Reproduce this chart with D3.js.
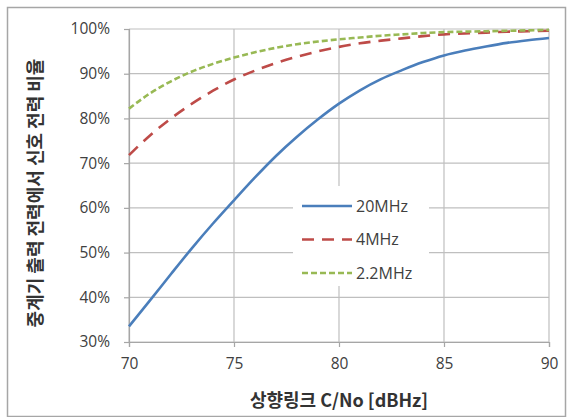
<!DOCTYPE html>
<html>
<head>
<meta charset="utf-8">
<script src="https://cdn.jsdelivr.net/npm/d3@7"></script>
<style>
  body { margin: 0; background: #fff; }
  svg { display: block; }
  .tick text { font-family: "Open Sans", "Noto Sans", sans-serif; font-size: 15.5px; fill: #404040; }
</style>
</head>
<body>
<svg id="chart"></svg>
<script>
// x values (uplink C/No, dBHz)
const cno = [70, 71, 72, 73, 74, 75, 76, 77, 78, 79, 80, 81, 82, 83, 84, 85, 86, 87, 88, 89, 90];
// signal power ratio in repeater output (%)
const bw20 = [33.5, 39.3, 45.2, 51, 56.5, 61.7, 66.8, 71.6, 75.9, 79.8, 83.3, 86.3, 88.8, 90.8, 92.6, 94.1, 95.2, 96.1, 96.9, 97.5, 98];
const bw4 = [71.8, 76.2, 80, 83.3, 86.2, 88.7, 90.7, 92.4, 93.8, 95, 96, 96.8, 97.4, 97.9, 98.4, 98.8, 99, 99.2, 99.4, 99.5, 99.6];
const bw22 = [82.2, 85.6, 88.3, 90.5, 92.2, 93.6, 94.8, 95.8, 96.6, 97.2, 97.7, 98.1, 98.5, 98.8, 99.1, 99.3, 99.4, 99.5, 99.6, 99.7, 99.8];
const seriesNames = ['20MHz', '4MHz', '2.2MHz'];
const xTicks = [70, 75, 80, 85, 90];
const yTicks = [30, 40, 50, 60, 70, 80, 90, 100];

const W = 568, H = 417;
const margin = {top: 29, right: 19, bottom: 75, left: 129};
const width = 549 - margin.left;
const height = 342 - margin.top;

const svg = d3.select('#chart').attr('width', W).attr('height', H);

// outer chart frame
svg.append('rect')
    .attr('x', 7.5).attr('y', 7.5)
    .attr('width', W - 10).attr('height', H - 8)
    .attr('fill', '#fff').attr('stroke', '#a6a6a6').attr('stroke-width', 1.5);

const xScale = d3.scaleLinear().domain([70, 90]).range([0, width]);
const yScale = d3.scaleLinear().domain([30, 100]).range([height, 0]);

const g = svg.append('g').attr('transform', `translate(${margin.left}, ${margin.top})`);

// gridlines
g.append('g').selectAll('line').data(yTicks).join('line')
    .attr('x1', 0).attr('x2', width)
    .attr('y1', d => yScale(d)).attr('y2', d => yScale(d))
    .attr('stroke', '#bfbfbf').attr('stroke-width', 1.2);
g.append('g').selectAll('line').data(xTicks).join('line')
    .attr('x1', d => xScale(d)).attr('x2', d => xScale(d))
    .attr('y1', 0).attr('y2', height)
    .attr('stroke', '#bfbfbf').attr('stroke-width', 1.2);

// axes
const xAxis = g.append('g')
    .attr('transform', `translate(0, ${height})`)
    .call(d3.axisBottom(xScale).tickValues(xTicks).tickSize(5).tickPadding(11));
const yAxis = g.append('g')
    .call(d3.axisLeft(yScale).tickValues(yTicks).tickSize(5).tickPadding(14)
        .tickFormat(d => d + '%'));
[xAxis, yAxis].forEach(a => {
  a.selectAll('.domain').attr('stroke', '#a6a6a6').attr('stroke-width', 1.2);
  a.selectAll('.tick line').attr('stroke', '#a6a6a6').attr('stroke-width', 1.2);
});

// lines
const series = [
  {name: seriesNames[0], values: bw20, color: '#4a7ebb', dash: null},
  {name: seriesNames[1], values: bw4, color: '#be4b48', dash: '12,8'},
  {name: seriesNames[2], values: bw22, color: '#98b954', dash: '6,3'},
];
const line = d3.line()
    .x((d, i) => xScale(cno[i]))
    .y(d => yScale(d))
    .curve(d3.curveMonotoneX);
series.forEach(s => {
  g.append('path').datum(s.values)
      .attr('fill', 'none')
      .attr('stroke', s.color)
      .attr('stroke-width', 2.6)
      .attr('stroke-dasharray', s.dash)
      .attr('d', line);
});

// legend
const legend = svg.append('g').attr('transform', 'translate(293, 186)');
legend.append('rect').attr('width', 136).attr('height', 100).attr('fill', '#fff');
series.forEach((s, i) => {
  const y = 20 + i * 33.5;
  legend.append('line')
      .attr('x1', 9).attr('x2', 59).attr('y1', y).attr('y2', y)
      .attr('stroke', s.color).attr('stroke-width', 2.6)
      .attr('stroke-dasharray', s.dash);
  legend.append('text')
      .attr('x', 63).attr('y', y).attr('dy', '0.35em')
      .attr('font-family', '"Open Sans", "Noto Sans", sans-serif')
      .attr('font-size', 16).attr('fill', '#404040')
      .text(s.name);
});

// axis titles
svg.append('text')
    .attr('x', 339).attr('y', 401).attr('dy', '0.35em')
    .attr('text-anchor', 'middle')
    .attr('font-family', '"Noto Sans CJK KR", sans-serif')
    .attr('font-size', 18).attr('font-weight', 'bold').attr('fill', '#333')
    .text('상향링크 C/No [dBHz]');
svg.append('text')
    .attr('transform', 'translate(36, 193) rotate(-90)')
    .attr('dy', '0.35em')
    .attr('text-anchor', 'middle')
    .attr('font-family', '"Noto Sans CJK KR", sans-serif')
    .attr('font-size', 18).attr('font-weight', 'bold').attr('fill', '#333')
    .text('중계기 출력 전력에서 신호 전력 비율');
</script>
</body>
</html>
